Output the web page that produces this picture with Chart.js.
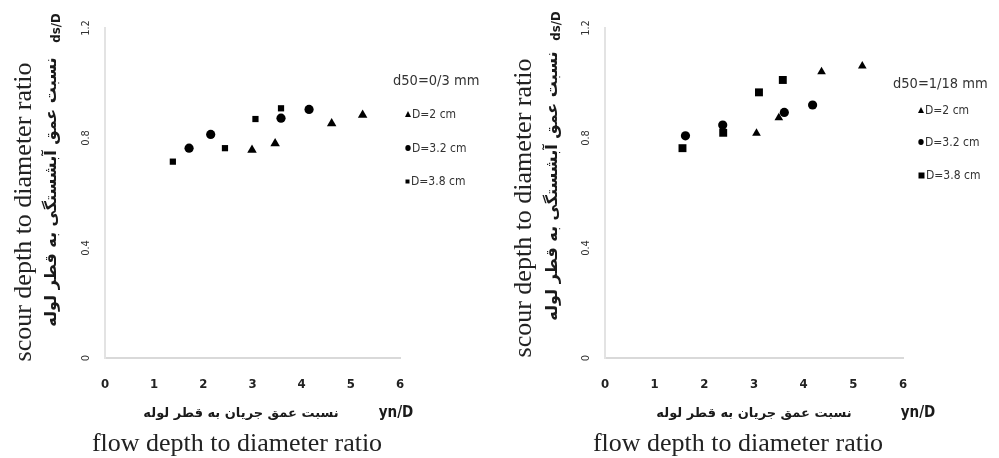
<!DOCTYPE html>
<html>
<head>
<meta charset="utf-8">
<script src="https://cdn.jsdelivr.net/npm/chart.js@4.4.1/dist/chart.umd.min.js"></script>
<style>
  html, body { margin: 0; padding: 0; background: #fff; }
  #page { position: relative; width: 999px; height: 458px; overflow: hidden; background: #fff; }
  .panel { position: absolute; top: 0; height: 458px; }
  .panel canvas { position: absolute; left: 0; top: 0; }
  .lbl { position: absolute; white-space: nowrap; color: #1a1a1a; transform: translate(-50%, -50%); line-height: 1; }
  .rot { transform: translate(-50%, -50%) rotate(-90deg); }
  .serif { font-family: "Liberation Serif", "DejaVu Serif", serif; font-size: 26px; color: #222; }
  .fa { font-family: "DejaVu Sans", sans-serif; font-size: 13px; font-weight: bold; direction: rtl; }
  .fa.rot { font-size: 16px; }
  .nar { font-family: "Liberation Sans Narrow", "DejaVu Sans Condensed", "Liberation Sans", sans-serif; font-weight: bold; font-size: 15px; }
  .nar.rot { font-size: 13px; }
  .leg { position: absolute; font-family: "Liberation Sans Narrow", "DejaVu Sans Condensed", sans-serif; color: #333; }
  .leg .t { font-size: 14.5px; position: absolute; white-space: nowrap; transform: translateY(-50%); }
  .leg .i { font-size: 12px; position: absolute; white-space: nowrap; transform: translateY(-50%); display: flex; align-items: center; }
  .leg svg { margin-right: 1px; }
</style>
</head>
<body>
<div id="page">
  <div class="panel" id="pL" style="left:0;width:500px;"><canvas id="cL" width="500" height="458"></canvas></div>
  <div class="panel" id="pR" style="left:500px;width:499px;"><canvas id="cR" width="499" height="458"></canvas></div>
</div>
<script>
// ---- data ----
const xTickLabels = ['0', '1', '2', '3', '4', '5', '6'];
const yTickLabels = ['0', '0.4', '0.8', '1.2'];
const seriesNames = ['D=2 cm', 'D=3.2 cm', 'D=3.8 cm'];
const legendTitleLeft = 'd50=0/3 mm';
const legendTitleRight = 'd50=1/18 mm';

// left panel, d50 = 0/3 mm
const leftD2x  = [2.99, 3.46, 4.61, 5.24];
const leftD2y  = [0.756, 0.780, 0.853, 0.884];
const leftD32x = [1.71, 2.15, 3.58, 4.15];
const leftD32y = [0.763, 0.813, 0.872, 0.904];
const leftD38x = [1.38, 2.44, 3.06, 3.58];
const leftD38y = [0.714, 0.763, 0.869, 0.908];

// right panel, d50 = 1/18 mm
const rightD2x  = [3.05, 3.50, 4.36, 5.18];
const rightD2y  = [0.817, 0.874, 1.041, 1.062];
const rightD32x = [1.62, 2.37, 3.61, 4.18];
const rightD32y = [0.808, 0.847, 0.893, 0.920];
const rightD38x = [1.56, 2.38, 3.10, 3.58];
const rightD38y = [0.763, 0.819, 0.966, 1.011];

const yTitleEn = 'scour depth to diameter ratio';
const yTitleFa = 'نسبت عمق آبشستگی به قطر لوله';
const xTitleEn = 'flow depth to diameter ratio';
const xTitleFa = 'نسبت عمق جریان به قطر لوله';
const yUnit = 'ds/D';
const xUnit = 'yn/D';

function pts(xs, ys) { return xs.map((x, i) => ({ x: x, y: ys[i] })); }

function makeChart(id, sets, radii, padRight) {
  const styles = ['triangle', 'circle', 'rect'];
  const ds = sets.map((s, i) => ({
    label: seriesNames[i],
    data: pts(s[0], s[1]),
    pointStyle: styles[i],
    pointRadius: radii[i],
    pointHoverRadius: radii[i],
    backgroundColor: '#000',
    borderColor: '#000',
    borderWidth: 0,
    showLine: false
  }));
  return new Chart(document.getElementById(id), {
    type: 'scatter',
    data: { datasets: ds },
    options: {
      responsive: false,
      animation: false,
      events: [],
      layout: { padding: { left: 60, top: 28, right: padRight, bottom: 55 } },
      plugins: { legend: { display: false }, tooltip: { enabled: false } },
      scales: {
        x: {
          type: 'linear', min: 0, max: 6,
          afterFit: (s) => { s.height = 45; },
          grid: { display: false },
          border: { display: true, color: '#d9d9d9', width: 2 },
          ticks: {
            stepSize: 1, padding: 11, color: '#222',
            font: { family: '"Liberation Sans Narrow", "DejaVu Sans Condensed", sans-serif', size: 13, weight: 'bold' },
            callback: (v) => xTickLabels[Math.round(v)]
          }
        },
        y: {
          type: 'linear', min: 0, max: 1.2,
          afterFit: (s) => { s.width = 45; },
          grid: { display: false },
          border: { display: true, color: '#e3e3e3', width: 2 },
          ticks: {
            stepSize: 0.4, padding: 3, color: '#333',
            minRotation: 90, maxRotation: 90, crossAlign: 'center',
            font: { family: '"Liberation Sans Narrow", "DejaVu Sans Condensed", sans-serif', size: 11 },
            callback: (v) => yTickLabels[Math.round(v / 0.4)]
          }
        }
      }
    }
  });
}

makeChart('cL', [[leftD2x, leftD2y], [leftD32x, leftD32y], [leftD38x, leftD38y]], [5.5, 4.6, 4.4], 100);
makeChart('cR', [[rightD2x, rightD2y], [rightD32x, rightD32y], [rightD38x, rightD38y]], [5, 4.6, 5.6], 96);

// ---- text overlays ----
const page = document.getElementById('page');
function addLabel(text, cls, cx, cy, extra) {
  const d = document.createElement('div');
  d.className = 'lbl ' + cls;
  d.textContent = text;
  d.style.left = cx + 'px';
  d.style.top = cy + 'px';
  if (extra) Object.assign(d.style, extra);
  page.appendChild(d);
}
function marker(kind, size) {
  const s = size;
  let shape = '';
  if (kind === 'triangle') shape = `<polygon points="${s/2},0 ${s},${s} 0,${s}" fill="#000"/>`;
  else if (kind === 'circle') shape = `<ellipse cx="${s/2}" cy="${s/2}" rx="${s/2 - 0.3}" ry="${s/2}" fill="#000"/>`;
  else shape = `<rect x="0.5" y="0.5" width="${s-1}" height="${s-1}" fill="#000"/>`;
  return `<svg width="${s}" height="${s}" viewBox="0 0 ${s} ${s}">${shape}</svg>`;
}
function addLegend(title, tx, ty, ix, iys, sizes) {
  const l = document.createElement('div');
  l.className = 'leg';
  l.style.left = '0px'; l.style.top = '0px';
  const t = document.createElement('div');
  t.className = 't'; t.textContent = title; t.style.left = tx + 'px'; t.style.top = ty + 'px';
  l.appendChild(t);
  const kinds = ['triangle', 'circle', 'rect'];
  seriesNames.forEach((n, i) => {
    const it = document.createElement('div');
    it.className = 'i';
    it.style.left = ix + 'px'; it.style.top = iys[i] + 'px';
    it.innerHTML = marker(kinds[i], sizes[i]) + '<span>' + n + '</span>';
    l.appendChild(it);
  });
  page.appendChild(l);
}

// left panel texts
addLabel(yTitleEn, 'serif rot', 23, 212);
addLabel(yTitleFa, 'fa rot', 51, 192);
addLabel(yUnit, 'nar rot', 55, 28);
addLabel(xTitleFa, 'fa', 241, 412);
addLabel(xUnit, 'nar', 396, 412);
addLabel(xTitleEn, 'serif', 237, 443);
addLegend(legendTitleLeft, 393, 80, 405, [114, 148, 181], [6, 6, 5]);

// right panel texts
addLabel(yTitleEn, 'serif rot', 523, 208);
addLabel(yTitleFa, 'fa rot', 552, 186);
addLabel(yUnit, 'nar rot', 555, 26);
addLabel(xTitleFa, 'fa', 754, 412);
addLabel(xUnit, 'nar', 918, 412);
addLabel(xTitleEn, 'serif', 738, 443);
addLegend(legendTitleRight, 893, 83, 918, [110, 142, 175], [6, 6, 7]);
</script>
</body>
</html>
